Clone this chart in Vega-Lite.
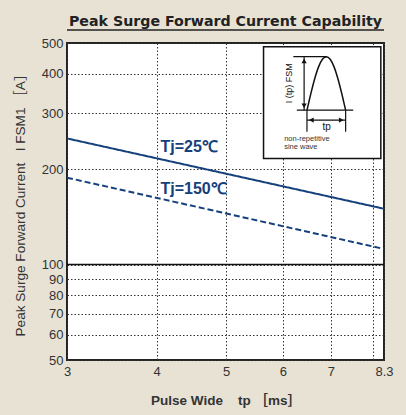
{
  "$schema": "https://vega.github.io/schema/vega-lite/v6.json",
  "width": 317,
  "height": 317,
  "autosize": {"type": "none"},
  "padding": {"left": 67, "top": 43, "right": 22, "bottom": 55},
  "background": "#e8e2d5",
  "title": {"text": "Peak Surge Forward Current Capability", "fontSize": 14.2, "fontWeight": "bold", "font": "DejaVu Sans", "color": "#222", "anchor": "middle", "offset": 0},
  "config": {
    "view": {"fill": "white", "stroke": "#222", "strokeWidth": 2},
    "axis": {"labelFont": "Liberation Sans", "labelFontSize": 13, "labelColor": "#333", "titleFont": "Liberation Sans, Noto Sans CJK JP", "titleColor": "#333", "titleFontSize": 13.6, "titleFontWeight": "normal", "ticks": false, "domain": false, "gridColor": "#333", "gridDash": [1.5, 2], "gridWidth": 1, "gridOpacity": 1}
  },
  "resolve": {"scale": {"x": "independent", "y": "independent"}},
  "layer": [
    {
      "layer": [
        {
          "data": {"values": [{"current": 100}]},
          "mark": {"type": "rule", "color": "#111", "strokeWidth": 1.5},
          "encoding": {
            "y": {"field": "current", "type": "quantitative", "scale": {"type": "log", "domain": [50, 500], "nice": false}, "title": "Peak Surge Forward Current\u00a0\u00a0\u00a0I\u00a0FSM1\u00a0［A］"}
          }
        },
        {
          "data": {"values": [
            {"tp": 3, "current": 250, "Tj": "25"},
            {"tp": 8.3, "current": 150, "Tj": "25"},
            {"tp": 3, "current": 188, "Tj": "150"},
            {"tp": 8.3, "current": 112, "Tj": "150"}
          ]},
          "mark": {"type": "line", "color": "#16407c", "strokeWidth": 2},
          "encoding": {
            "x": {"field": "tp", "type": "quantitative", "scale": {"type": "log", "domain": [3, 8.3], "nice": false},
                  "title": "Pulse Wide\u00a0\u00a0\u00a0\u00a0tp\u00a0［ms］",
                  "axis": {"values": [3, 4, 5, 6, 7, 8, 8.3], "format": "~g", "labelExpr": "datum.value == 8 ? '' : datum.label", "labelFlush": false, "labelOverlap": false, "labelPadding": 5, "titlePadding": 15, "grid": true, "titleFontWeight": "bold", "titleFontSize": 13.5}},
            "y": {"field": "current", "type": "quantitative", "scale": {"type": "log", "domain": [50, 500], "nice": false},
                  "title": "Peak Surge Forward Current\u00a0\u00a0\u00a0I\u00a0FSM1\u00a0［A］",
                  "axis": {"values": [50, 60, 70, 80, 90, 100, 200, 300, 400, 500], "format": "d", "labelOverlap": false, "labelPadding": 4, "titlePadding": 14, "grid": true}},
            "strokeDash": {"field": "Tj", "type": "nominal", "scale": {"domain": ["25", "150"], "range": [[1, 0], [6, 3]]}, "legend": null}
          }
        },
        {
          "data": {"values": [
            {"tp": 4.05, "current": 235.5, "label": "Tj=25℃"},
            {"tp": 4.05, "current": 172.8, "label": "Tj=150℃"}
          ]},
          "mark": {"type": "text", "color": "#16407c", "fontSize": 16, "fontWeight": "bold", "font": "Liberation Sans", "align": "left", "baseline": "middle"},
          "encoding": {
            "x": {"field": "tp", "type": "quantitative", "title": "Pulse Wide\u00a0\u00a0\u00a0\u00a0tp\u00a0［ms］"},
            "y": {"field": "current", "type": "quantitative", "title": "Peak Surge Forward Current\u00a0\u00a0\u00a0I\u00a0FSM1\u00a0［A］"},
            "text": {"field": "label"}
          }
        }
      ]
    },
    {
      "encoding": {
        "x": {"field": "u", "type": "quantitative", "scale": {"domain": [0, 100], "nice": false, "zero": false}, "axis": null},
        "y": {"field": "v", "type": "quantitative", "scale": {"domain": [0, 100], "nice": false, "zero": false}, "axis": null}
      },
      "layer": [
        {
          "data": {"values": [{"u": 62.0, "u2": 99.0, "v": 98.8, "v2": 63.6}]},
          "mark": {"type": "rect", "fill": "white", "stroke": "#111", "strokeWidth": 1.5},
          "encoding": {"x2": {"field": "u2"}, "y2": {"field": "v2"}}
        },
        {
          "data": {"values": [{"u": 0, "u2": 100, "v": 104.1}]},
          "mark": {"type": "rule", "color": "#222", "strokeWidth": 1.5, "clip": false},
          "encoding": {"x2": {"field": "u2"}}
        },
        {
          "data": {"values": [
            {"i": 0, "u": 75.7, "v": 78.8},
            {"i": 1, "u": 76.31, "v": 81.44},
            {"i": 2, "u": 76.92, "v": 84.02},
            {"i": 3, "u": 78.14, "v": 88.74},
            {"i": 4, "u": 79.36, "v": 92.47},
            {"i": 5, "u": 80.58, "v": 94.87},
            {"i": 6, "u": 81.8, "v": 95.7},
            {"i": 7, "u": 83.02, "v": 94.87},
            {"i": 8, "u": 84.24, "v": 92.47},
            {"i": 9, "u": 85.46, "v": 88.74},
            {"i": 10, "u": 86.68, "v": 84.02},
            {"i": 11, "u": 87.29, "v": 81.44},
            {"i": 12, "u": 87.9, "v": 78.8}
          ]},
          "mark": {"type": "line", "color": "#111", "strokeWidth": 1.5, "interpolate": "monotone"},
          "encoding": {"order": {"field": "i", "type": "quantitative"}}
        },
        {
          "data": {"values": [
            {"u": 72.5, "u2": 90.3, "v": 78.8, "v2": 78.8},
            {"u": 71.4, "u2": 82.0, "v": 95.7, "v2": 95.7},
            {"u": 74.8, "u2": 74.8, "v": 78.8, "v2": 95.7},
            {"u": 75.7, "u2": 75.7, "v": 78.8, "v2": 72.0},
            {"u": 87.9, "u2": 87.9, "v": 78.8, "v2": 72.0},
            {"u": 75.7, "u2": 87.9, "v": 75.7, "v2": 75.7}
          ]},
          "mark": {"type": "rule", "color": "#111", "strokeWidth": 1.2},
          "encoding": {"x2": {"field": "u2"}, "y2": {"field": "v2"}}
        },
        {
          "data": {"values": [
            {"u": 74.8, "v": 94.3, "s": "triangle-up"},
            {"u": 74.8, "v": 80.2, "s": "triangle-down"},
            {"u": 77.1, "v": 75.7, "s": "triangle-left"},
            {"u": 86.5, "v": 75.7, "s": "triangle-right"}
          ]},
          "mark": {"type": "point", "filled": true, "color": "#111", "size": 28, "opacity": 1},
          "encoding": {"shape": {"field": "s", "type": "nominal", "scale": null}}
        },
        {
          "data": {"values": [{"u": 70.1, "v": 87.3, "t": "I (tp) FSM"}]},
          "mark": {"type": "text", "angle": 270, "fontSize": 9, "font": "Liberation Sans", "color": "#111", "align": "center", "baseline": "middle"},
          "encoding": {"text": {"field": "t"}}
        },
        {
          "data": {"values": [{"u": 81.9, "v": 73.4, "t": "tp"}]},
          "mark": {"type": "text", "fontSize": 10, "font": "Liberation Sans", "color": "#111", "align": "center", "baseline": "middle"},
          "encoding": {"text": {"field": "t"}}
        },
        {
          "data": {"values": [
            {"u": 68.5, "v": 69.7, "t": "non-repetitive"},
            {"u": 68.5, "v": 67.3, "t": "sine wave"}
          ]},
          "mark": {"type": "text", "fontSize": 7.5, "font": "Liberation Sans", "color": "#333", "align": "left", "baseline": "middle"},
          "encoding": {"text": {"field": "t"}}
        }
      ]
    }
  ]
}
